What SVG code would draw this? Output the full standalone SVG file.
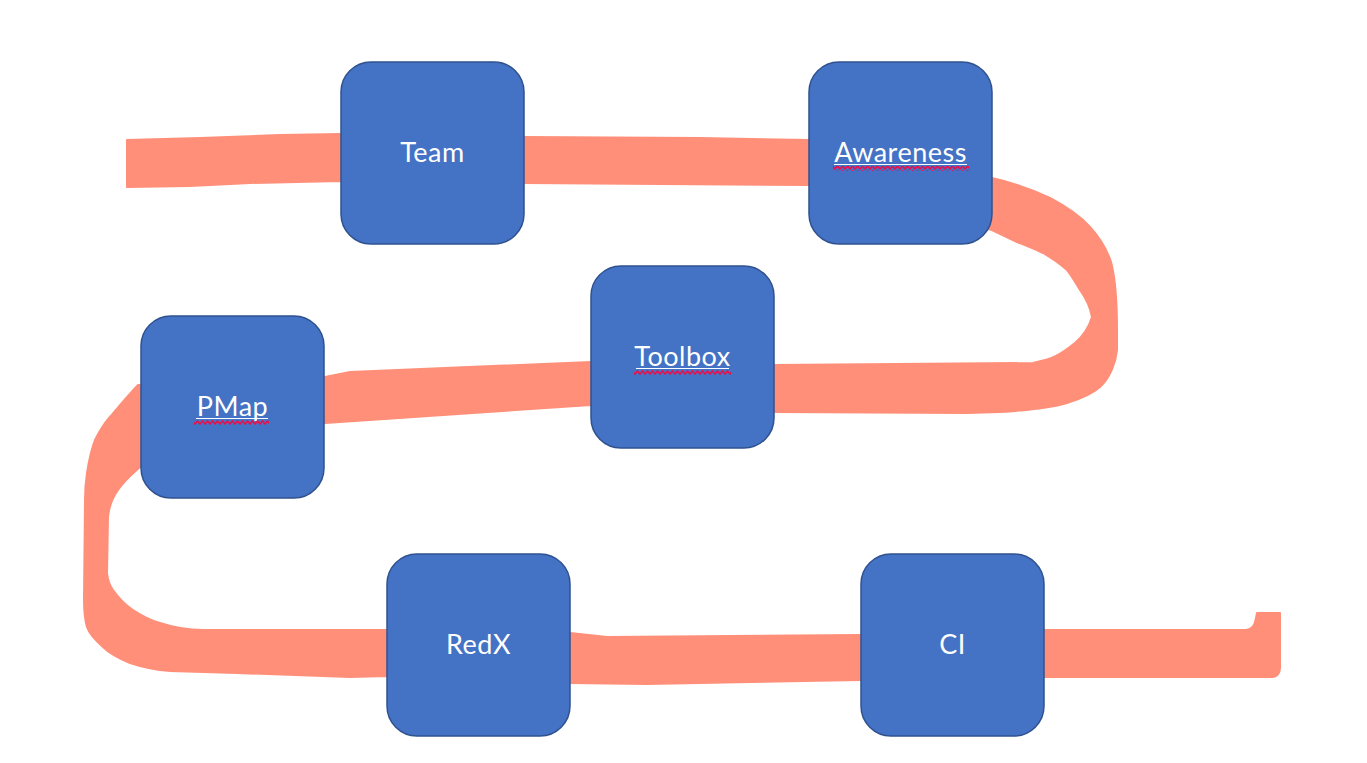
<svg xmlns="http://www.w3.org/2000/svg" width="1367" height="763" viewBox="0 0 1367 763">
<defs>
<style>
.band{fill:#FF8F79;stroke:#FF8F79;stroke-width:2;stroke-linejoin:round}
.box{fill:#4472C4;stroke:#2F528F;stroke-width:1.5}
.lbl{font-family:Lato,"Liberation Sans",sans-serif;font-size:27px;letter-spacing:0.5px;fill:#FFFFFF;text-anchor:middle}
.ul{stroke:#FFFFFF;stroke-width:1.2}
</style>
<pattern id="wave" x="0" y="0" width="5" height="5" patternUnits="userSpaceOnUse">
<path d="M-2.5,1 L0,4 L2.5,1 L5,4 L7.5,1" fill="none" stroke="#E8104A" stroke-width="1.6"/>
</pattern>
</defs>
<rect width="1367" height="763" fill="#FFFFFF"/>
<g id="connectors">
<path class="band" d="M127,140 L200,138 L280,135 L340,134 L524,137 L700,138 L809,140 L992,178 C1010,182 1033,190 1050,198 C1067,207 1082,218 1090,227 C1100,238 1107,250 1111,262 C1115,277 1117,300 1117,330 L1117,350 C1116,362 1110,378 1100,387 C1092,394 1080,399 1067,403 C1050,408 1033,410 1000,412 L967,413 L774,412 L591,405 L325,423 L140,467 C132,474 123,482 118,490 C113,497 109,507 108,517 L107,573 C108,582 110,586 113,590 C120,600 127,606 133,610 C145,618 153,621 160,623 C175,628 190,630 203,630 L387,630 L570,633 L607,637 L861,635 L1044,630 L1246,630 C1252,630 1255,625 1256,618 L1257,613 L1280,613 L1280,668 C1280,673 1277,677 1272,677 L1044,677 L861,680 L647,684 L570,683 L387,676 L350,677 L237,673 L170,671 C157,670 142,667 130,663 C118,658 108,652 103,647 C95,640 89,633 87,627 C85,620 84,610 84,600 L85,500 C85,487 86,480 87,473 C89,460 91,450 95,440 C100,430 104,424 109,418 C116,410 124,400 138,385 L325,377 L350,372 L591,362 L774,365 L1033,363 C1043,361 1050,359 1056,356 C1064,352 1070,347 1075,343 C1083,336 1089,327 1092,317 C1090,306 1085,297 1080,290 C1075,282 1072,276 1067,270 C1058,262 1050,257 1043,253 C1033,248 1025,245 1017,242 L992,230 L809,185 L524,183 L340,181 L250,183 L190,186 L127,187 Z"/>
</g>
<g id="node-team">
<rect class="box" x="341" y="62" width="183" height="182" rx="30" ry="30"/>
<text class="lbl" x="432.5" y="162">Team</text>
</g>
<g id="node-awareness">
<rect class="box" x="809" y="62" width="183" height="182" rx="30" ry="30"/>
<text class="lbl" x="900.5" y="162">Awareness</text>
<line class="ul" x1="834" y1="164.5" x2="967" y2="164.5"/>
<rect x="833" y="166" width="136" height="5" fill="url(#wave)"/>
</g>
<g id="node-toolbox">
<rect class="box" x="591" y="266" width="183" height="182" rx="30" ry="30"/>
<text class="lbl" x="682.5" y="366">Toolbox</text>
<line class="ul" x1="636" y1="368.5" x2="729" y2="368.5"/>
<rect x="634" y="370" width="97" height="5" fill="url(#wave)"/>
</g>
<g id="node-pmap">
<rect class="box" x="141" y="316" width="183" height="182" rx="30" ry="30"/>
<text class="lbl" x="232.5" y="416">PMap</text>
<line class="ul" x1="196" y1="418.5" x2="268" y2="418.5"/>
<rect x="194" y="420" width="75" height="5" fill="url(#wave)"/>
</g>
<g id="node-redx">
<rect class="box" x="387" y="554" width="183" height="182" rx="30" ry="30"/>
<text class="lbl" x="478.5" y="654">RedX</text>
</g>
<g id="node-ci">
<rect class="box" x="861" y="554" width="183" height="182" rx="30" ry="30"/>
<text class="lbl" x="952.5" y="654">CI</text>
</g>
</svg>
